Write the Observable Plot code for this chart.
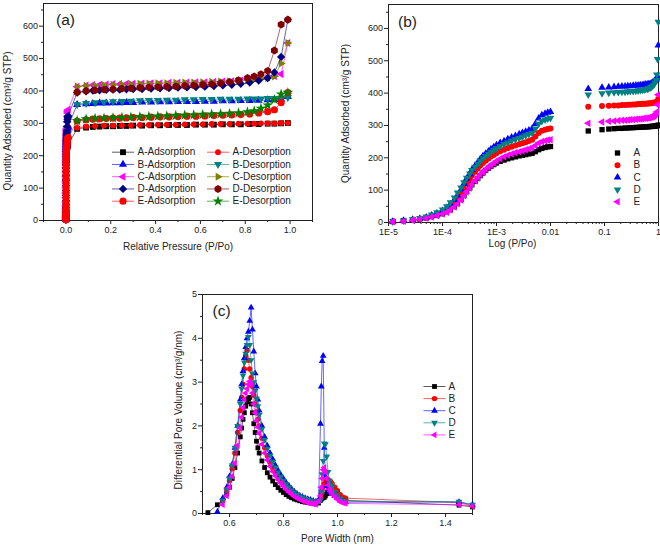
<!DOCTYPE html>
<html><head><meta charset="utf-8">
<script src="https://cdn.jsdelivr.net/npm/d3@7"></script>
<script src="https://cdn.jsdelivr.net/npm/@observablehq/plot@0.6"></script>
<style>
body{margin:0;background:#fff;}
#wrap{position:relative;width:660px;height:546px;overflow:hidden;background:#fff;}
.panel{position:absolute;}
</style></head>
<body><div id="wrap">
<div class="panel" id="pa" style="left:0;top:0"></div>
<div class="panel" id="pb" style="left:330px;top:0"></div>
<div class="panel" id="pc" style="left:80px;top:280px"></div>
</div>
<script>
// ---------- DATA ----------
const samples = ["A", "B", "C", "D", "E"];
// low-pressure adsorption points (P/Po)
const lowP = [1.2e-5, 1.9e-5, 2.8e-5, 3.8e-5, 5e-5, 6.3e-5, 7.9e-5, 1e-4, 1.2e-4, 1.4e-4, 1.66e-4, 1.9e-4, 2.2e-4, 2.5e-4, 2.8e-4, 3.2e-4, 3.5e-4, 4e-4, 4.5e-4, 5e-4, 5.6e-4, 6.3e-4, 7.1e-4, 7.9e-4, 8.9e-4, 1e-3, 1.17e-3, 1.38e-3, 1.62e-3, 1.9e-3, 2.24e-3, 2.63e-3, 3.02e-3, 3.47e-3, 3.98e-3, 4.57e-3, 5.25e-3, 6.03e-3, 6.92e-3, 7.94e-3, 8.9e-3, 1e-2];
const lowA = [3, 6, 8, 11, 14, 18, 22, 27, 33, 40, 49, 59, 71, 84, 96, 107, 117, 127, 136, 145, 153, 161, 168, 174, 179, 184, 189, 193, 197, 200, 203, 206, 208, 210, 212, 214, 219, 225, 229, 232, 234, 235];
const lowB = [3, 5, 8, 11, 15, 20, 26, 33, 41, 51, 63, 76, 91, 107, 121, 134, 146, 157, 167, 176, 184, 191, 198, 204, 209, 214, 220, 225, 230, 234, 238, 242, 245, 248, 252, 256, 266, 277, 284, 287, 289, 291];
const lowC = [3, 6, 9, 12, 16, 22, 28, 36, 45, 56, 70, 85, 102, 120, 136, 150, 163, 175, 186, 196, 205, 213, 220, 227, 233, 239, 246, 252, 258, 263, 268, 273, 277, 281, 285, 290, 305, 322, 332, 337, 340, 342];
const lowD = [3, 6, 10, 13, 18, 24, 31, 40, 50, 62, 77, 92, 108, 124, 138, 151, 162, 172, 181, 190, 198, 205, 212, 218, 224, 229, 236, 242, 247, 252, 257, 261, 265, 269, 273, 277, 290, 305, 313, 318, 321, 323];
const lowE = [2, 4, 7, 10, 13, 17, 21, 26, 32, 39, 48, 58, 70, 83, 95, 107, 118, 129, 139, 148, 156, 164, 171, 178, 184, 190, 197, 203, 208, 212, 216, 219, 222, 225, 228, 231, 238, 246, 250, 253, 255, 256];
// adsorption, higher pressures
const highP = [0.05, 0.09, 0.12, 0.15, 0.18, 0.21, 0.24, 0.27, 0.3, 0.34, 0.38, 0.42, 0.46, 0.5, 0.54, 0.58, 0.62, 0.66, 0.7, 0.74, 0.78, 0.82, 0.86, 0.9, 0.93, 0.96, 0.99];
const highA = [283, 287, 289, 290, 291, 291, 292, 292, 293, 293, 294, 294, 295, 295, 295, 296, 296, 296, 297, 297, 297, 298, 298, 299, 299, 300, 301];
const highB = [358, 360, 361, 362, 362, 363, 363, 364, 364, 365, 365, 366, 366, 367, 367, 367, 368, 368, 369, 369, 370, 370, 371, 372, 373, 375, 382];
const highC = [413, 417, 418, 419, 420, 421, 421, 422, 422, 423, 424, 424, 425, 425, 426, 427, 427, 428, 429, 430, 432, 435, 438, 442, 446, 452, 548];
const highD = [395, 399, 401, 402, 403, 404, 404, 405, 406, 406, 407, 408, 409, 410, 411, 412, 413, 415, 417, 419, 422, 426, 432, 440, 457, 505, 620];
const highE = [307, 311, 313, 314, 315, 316, 316, 317, 318, 318, 319, 320, 320, 321, 322, 322, 323, 324, 325, 326, 327, 329, 332, 336, 342, 364, 395];
// desorption
const desP = [0.99, 0.96, 0.93, 0.9, 0.87, 0.84, 0.81, 0.77, 0.73, 0.69, 0.65, 0.61, 0.57, 0.53, 0.49, 0.45, 0.41, 0.37, 0.33, 0.29, 0.25, 0.21, 0.17, 0.13, 0.09, 0.05];
const desA = [301, 301, 300, 300, 300, 299, 299, 299, 298, 298, 298, 297, 297, 297, 296, 296, 296, 295, 295, 294, 294, 293, 293, 292, 290, 286];
const desB = [380, 378, 377, 377, 376, 376, 376, 375, 375, 375, 374, 374, 373, 373, 372, 372, 371, 371, 370, 369, 368, 367, 366, 364, 362, 358];
const desC = [548, 485, 445, 440, 437, 435, 433, 431, 430, 429, 428, 427, 426, 426, 425, 424, 424, 423, 422, 421, 420, 419, 418, 417, 416, 414];
const desD = [620, 605, 525, 462, 452, 445, 440, 433, 428, 424, 421, 419, 417, 416, 414, 413, 412, 411, 410, 408, 407, 405, 404, 402, 400, 396];
const desE = [395, 390, 373, 356, 346, 338, 335, 332, 330, 329, 328, 327, 326, 325, 324, 323, 322, 321, 320, 319, 318, 317, 316, 315, 313, 308];
// pore size distribution
const poreX = [0.52, 0.555, 0.575, 0.59, 0.6, 0.61, 0.62, 0.63, 0.64, 0.645, 0.65, 0.655, 0.66, 0.665, 0.67, 0.675, 0.68, 0.685, 0.69, 0.695, 0.7, 0.705, 0.71, 0.72, 0.73, 0.74, 0.75, 0.76, 0.77, 0.78, 0.79, 0.8, 0.81, 0.82, 0.83, 0.84, 0.85, 0.86, 0.87, 0.88, 0.89, 0.9, 0.91, 0.92, 0.93, 0.937, 0.94, 0.943, 0.947, 0.951, 0.955, 0.96, 0.965, 0.97, 0.975, 0.98, 0.99, 1.0, 1.01, 1.02, 1.03, 1.45, 1.5];
const poreA = [0.02, 0.2, 0.3, 0.45, 0.6, 0.8, 1.05, 1.38, 1.75, 1.95, 2.15, 2.3, 2.45, 2.55, 2.62, 2.65, 2.5, 2.3, 2.05, 1.85, 1.65, 1.5, 1.38, 1.2, 1.05, 0.93, 0.83, 0.74, 0.66, 0.59, 0.53, 0.48, 0.43, 0.39, 0.36, 0.33, 0.31, 0.29, 0.27, 0.26, 0.25, 0.24, 0.23, 0.22, 0.24, 0.3, 0.33, 0.35, 0.36, 0.37, 0.4, 0.45, 0.49, 0.5, 0.5, 0.48, 0.45, 0.4, 0.36, 0.33, 0.3, 0.19, 0.15];
const poreB = [null, null, 0.3, 0.52, 0.75, 1.02, 1.38, 1.85, 2.35, 2.65, 2.95, 3.3, 3.6, 3.72, 3.5, 3.3, 3.1, 2.9, 2.7, 2.5, 2.32, 2.15, 2.0, 1.72, 1.5, 1.32, 1.17, 1.04, 0.93, 0.83, 0.75, 0.67, 0.6, 0.54, 0.48, 0.43, 0.39, 0.35, 0.32, 0.3, 0.28, 0.26, 0.24, 0.24, 0.3, 0.38, 0.46, 0.55, 0.62, 0.68, 0.72, 0.75, 0.77, 0.75, 0.72, 0.68, 0.6, 0.52, 0.43, 0.37, 0.35, 0.25, 0.17];
const poreC = [null, 0.04, 0.35, 0.6, 0.85, 1.12, 1.5, 2.0, 2.6, 2.95, 3.25, 3.55, 3.8, 4.0, 4.15, 4.4, 4.7, 4.2, 3.7, 3.2, 2.9, 2.6, 2.35, 2.0, 1.75, 1.55, 1.38, 1.24, 1.1, 0.98, 0.88, 0.79, 0.7, 0.63, 0.56, 0.5, 0.45, 0.41, 0.38, 0.35, 0.33, 0.31, 0.29, 0.27, 0.3, 2.05, 2.9, 3.48, 3.6, 1.5, 0.85, 0.62, 0.55, 0.5, 0.48, 0.45, 0.4, 0.35, 0.3, 0.27, 0.26, 0.26, 0.2];
const poreD = [null, null, 0.3, 0.55, 0.8, 1.1, 1.5, 2.0, 2.5, 2.85, 3.15, 3.45, 3.65, 3.85, 4.03, 3.85, 3.5, 3.2, 3.0, 2.8, 2.62, 2.45, 2.25, 1.93, 1.68, 1.48, 1.32, 1.18, 1.05, 0.94, 0.84, 0.75, 0.67, 0.6, 0.53, 0.48, 0.43, 0.39, 0.36, 0.33, 0.31, 0.29, 0.27, 0.25, 0.28, 0.3, 0.5, 0.9, 1.2, 1.6, 1.58, 1.3, 0.95, 0.75, 0.65, 0.6, 0.5, 0.42, 0.35, 0.3, 0.28, 0.27, 0.2];
const poreE = [null, null, 0.2, 0.4, 0.6, 0.85, 1.15, 1.55, 1.95, 2.2, 2.42, 2.6, 2.75, 2.85, 2.95, 3.02, 2.95, 2.75, 2.5, 2.3, 2.12, 1.97, 1.83, 1.58, 1.38, 1.22, 1.08, 0.96, 0.86, 0.77, 0.69, 0.62, 0.55, 0.49, 0.44, 0.39, 0.35, 0.32, 0.29, 0.27, 0.25, 0.23, 0.22, 0.21, 0.28, 0.4, 0.6, 0.8, 1.0, 1.05, 0.95, 0.8, 0.65, 0.55, 0.5, 0.45, 0.38, 0.32, 0.27, 0.24, 0.23, 0.2, 0.17];
// tick labels
const aXTicks = [0, 0.2, 0.4, 0.6, 0.8, 1.0];
const aXMinor = [-0.1, 0.1, 0.3, 0.5, 0.7, 0.9, 1.1];
const isoYTicks = [0, 100, 200, 300, 400, 500, 600];
const isoYMinor = [50, 150, 250, 350, 450, 550, 650];
const bXTicks = [1e-5, 1e-4, 1e-3, 1e-2, 1e-1, 1];
const bXLabels = ["1E-5", "1E-4", "1E-3", "0.01", "0.1", "1"];
const cXTicks = [0.6, 0.8, 1.0, 1.2, 1.4];
const cXMinor = [0.5, 0.7, 0.9, 1.1, 1.3, 1.5];
const cYTicks = [0, 1, 2, 3, 4, 5];
const cYMinor = [0.5, 1.5, 2.5, 3.5, 4.5];

// ---------- STYLE ----------
const FONT = '"Liberation Sans", Arial, Helvetica, sans-serif';
const INK = "#222";
const sqrt3 = Math.sqrt(3);
const triDown = {draw(c, s) { const y = -Math.sqrt(s / (sqrt3 * 3)); c.moveTo(0, -2 * y); c.lineTo(-sqrt3 * y, y); c.lineTo(sqrt3 * y, y); c.closePath(); }};
const triLeft = {draw(c, s) { const y = -Math.sqrt(s / (sqrt3 * 3)); c.moveTo(2 * y, 0); c.lineTo(-y, -sqrt3 * y); c.lineTo(-y, sqrt3 * y); c.closePath(); }};
const triRight = {draw(c, s) { const y = -Math.sqrt(s / (sqrt3 * 3)); c.moveTo(-2 * y, 0); c.lineTo(y, -sqrt3 * y); c.lineTo(y, sqrt3 * y); c.closePath(); }};
const rhomb = {draw(c, s) { const r = Math.sqrt(s / 2); c.moveTo(0, -r); c.lineTo(r, 0); c.lineTo(0, r); c.lineTo(-r, 0); c.closePath(); }};
const seg = {draw(c) { c.moveTo(-11, 0); c.lineTo(11, 0); }};

function rows(xs, ys) { return xs.map((x, i) => ({x, y: ys[i]})).filter(d => d.y != null); }

function axes(o) {
  return [
    Plot.axisX({ticks: o.xMajor, tickFormat: o.xFmt, tickSize: 4, tickPadding: 2, label: null}),
    Plot.axisX({ticks: o.xMinor, tickFormat: () => "", tickSize: 2, label: null}),
    Plot.axisY({ticks: o.yMajor, tickFormat: o.yFmt, tickSize: 4, tickPadding: 1.5, label: null}),
    Plot.axisY({ticks: o.yMinor, tickFormat: () => "", tickSize: 2, label: null}),
    Plot.frame({stroke: INK, strokeWidth: 1})
  ];
}
function titles(o) {
  return [
    Plot.text([o.xTitle], {frameAnchor: "bottom", text: d => d, dx: o.xdx || 0, dy: o.xdy, fontSize: 10, textAnchor: "middle", lineAnchor: "middle", fill: INK}),
    Plot.text([o.yTitle], {frameAnchor: "left", text: d => d, dx: o.ydx, dy: o.ydy || 0, rotate: -90, fontSize: 10, textAnchor: "middle", lineAnchor: "middle", fill: INK}),
    Plot.text([o.tag], {frameAnchor: "top-left", text: d => d, dx: o.tagDx, dy: o.tagDy, fontSize: 15.5, textAnchor: "middle", lineAnchor: "middle", fill: INK})
  ];
}
function legend(items, o) {
  const marks = [];
  items.forEach((it, i) => {
    const dy = o.dy0 + o.step * i;
    if (o.line) marks.push(Plot.dot([0], {frameAnchor: "top-left", dx: it.symDx, dy, symbol: seg, r: 1, fill: "none", stroke: it.color, strokeWidth: 0.8, strokeOpacity: 0.8}));
    marks.push(Plot.dot([0], {frameAnchor: "top-left", dx: it.symDx, dy, symbol: it.symbol, r: it.r, fill: it.color, stroke: "none"}));
    marks.push(Plot.text([it.label], {frameAnchor: "top-left", text: d => d, dx: it.textDx, dy, fontSize: 10, textAnchor: "start", lineAnchor: "middle", fill: INK}));
  });
  return marks;
}
function seriesMarks(list, withLine) {
  const m = [];
  for (const s of list) {
    if (withLine) m.push(Plot.line(s.data, {x: "x", y: "y", stroke: s.color, strokeWidth: 0.8, strokeOpacity: 0.75}));
    m.push(Plot.dot(s.data, {x: "x", y: "y", symbol: s.symbol, r: s.r, fill: s.color, stroke: "none"}));
  }
  return m;
}
const baseStyle = {fontFamily: FONT, fontSize: "9px", color: INK, background: "transparent", overflow: "visible"};

// ---------- PANEL A ----------
const adsLow = {A: lowA, B: lowB, C: lowC, D: lowD, E: lowE};
const adsHigh = {A: highA, B: highB, C: highC, D: highD, E: highE};
const desY = {A: desA, B: desB, C: desC, D: desD, E: desE};
const adsX = lowP.concat(highP);
const aAds = {
  A: {color: "#000000", symbol: "square", r: 3.3},
  B: {color: "#0000ff", symbol: "triangle", r: 3.0},
  C: {color: "#ff00ff", symbol: triLeft, r: 3.0},
  D: {color: "#000080", symbol: rhomb, r: 3.3},
  E: {color: "#ff0000", symbol: "circle", r: 3.6}
};
const aDes = {
  A: {color: "#ff0000", symbol: "circle", r: 2.9},
  B: {color: "#008080", symbol: triDown, r: 3.0},
  C: {color: "#808000", symbol: triRight, r: 3.0},
  D: {color: "#800000", symbol: "hexagon", r: 3.4},
  E: {color: "#008000", symbol: "star", r: 3.4}
};
const aSeries = [];
samples.forEach(k => {
  aSeries.push({...aAds[k], data: rows(adsX, adsLow[k].concat(adsHigh[k]))});
  aSeries.push({...aDes[k], data: rows(desP, desY[k])});
});
const aLegend = samples.map(k => ({...aAds[k], label: k + "-Adsorption", symDx: 79.5, textDx: 94}));
const aLegend2 = samples.map(k => ({...aDes[k], label: k + "-Desorption", symDx: 174.5, textDx: 189}));

const chartA = Plot.plot({
  width: 330, height: 270, marginLeft: 43, marginRight: 18, marginTop: 3, marginBottom: 50,
  x: {domain: [-0.1, 1.1]}, y: {domain: [0, 670]},
  style: baseStyle,
  marks: [
    ...axes({xMajor: aXTicks, xMinor: aXMinor, xFmt: d3.format(".1f"), yMajor: isoYTicks, yMinor: isoYMinor, yFmt: d3.format("d")}),
    ...seriesMarks(aSeries, true),
    ...legend(aLegend, {dy0: 148.7, step: 12.25, line: true}),
    ...legend(aLegend2, {dy0: 148.7, step: 12.25, line: true}),
    ...titles({xTitle: "Relative Pressure (P/Po)", xdy: 26, yTitle: "Quantity Adsorbed (cm³/g STP)", ydx: -35.5, ydy: 9, tag: "(a)", tagDx: 22, tagDy: 17})
  ]
});
document.getElementById("pa").appendChild(chartA);

// ---------- PANEL B ----------
const bStyle = {
  A: {color: "#000000", symbol: "square", r: 3.0},
  B: {color: "#ff0000", symbol: "circle", r: 3.0},
  C: {color: "#0000ff", symbol: "triangle", r: 2.8},
  D: {color: "#008080", symbol: triDown, r: 2.8},
  E: {color: "#ff00ff", symbol: triLeft, r: 2.8}
};
const bSeries = samples.map(k => ({...bStyle[k], data: rows(adsX, adsLow[k].concat(adsHigh[k]))}));
const bLabelMap = new Map(bXTicks.map((t, i) => [t, bXLabels[i]]));
const bMinor = [];
bXTicks.slice(0, -1).forEach(t => { for (let m = 2; m <= 9; m++) bMinor.push(t * m); });
const chartB = Plot.plot({
  width: 330, height: 270, marginLeft: 58, marginRight: 2, marginTop: 4, marginBottom: 48,
  x: {type: "log", domain: [1e-5, 1]}, y: {domain: [0, 674]},
  style: baseStyle,
  marks: [
    ...axes({xMajor: bXTicks, xMinor: bMinor, xFmt: d => bLabelMap.get(d), yMajor: isoYTicks, yMinor: isoYMinor, yFmt: d3.format("d")}),
    ...seriesMarks(bSeries, false),
    ...legend(samples.map(k => ({...bStyle[k], label: k, symDx: 229, textDx: 245})), {dy0: 148.5, step: 12.2, line: false}),
    ...titles({xTitle: "Log (P/Po)", xdx: -11, xdy: 21, yTitle: "Quantity Adsorbed (cm³/g STP)", ydx: -43, ydy: 0, tag: "(b)", tagDx: 19, tagDy: 18})
  ]
});
document.getElementById("pb").appendChild(chartB);

// ---------- PANEL C ----------
const poreY = {A: poreA, B: poreB, C: poreC, D: poreD, E: poreE};
const cSeries = samples.map(k => ({...bStyle[k], r: bStyle[k].r - 0.3, data: rows(poreX, poreY[k])}));
const chartC = Plot.plot({
  width: 440, height: 266, marginLeft: 122, marginRight: 48, marginTop: 14, marginBottom: 33,
  x: {domain: [0.5, 1.5]}, y: {domain: [0, 5]},
  style: baseStyle,
  marks: [
    ...axes({xMajor: cXTicks, xMinor: cXMinor, xFmt: d3.format(".1f"), yMajor: cYTicks, yMinor: cYMinor, yFmt: d3.format("d")}),
    ...seriesMarks(cSeries, true),
    ...legend(samples.map(k => ({...bStyle[k], r: bStyle[k].r - 0.3, label: k, symDx: 232, textDx: 246})), {dy0: 92, step: 12.1, line: true}),
    ...titles({xTitle: "Pore Width (nm)", xdy: 25, yTitle: "Differential Pore Volume (cm³/g/nm)", ydx: -24, ydy: 6, tag: "(c)", tagDx: 19, tagDy: 17})
  ]
});
document.getElementById("pc").appendChild(chartC);
</script>
</body></html>
